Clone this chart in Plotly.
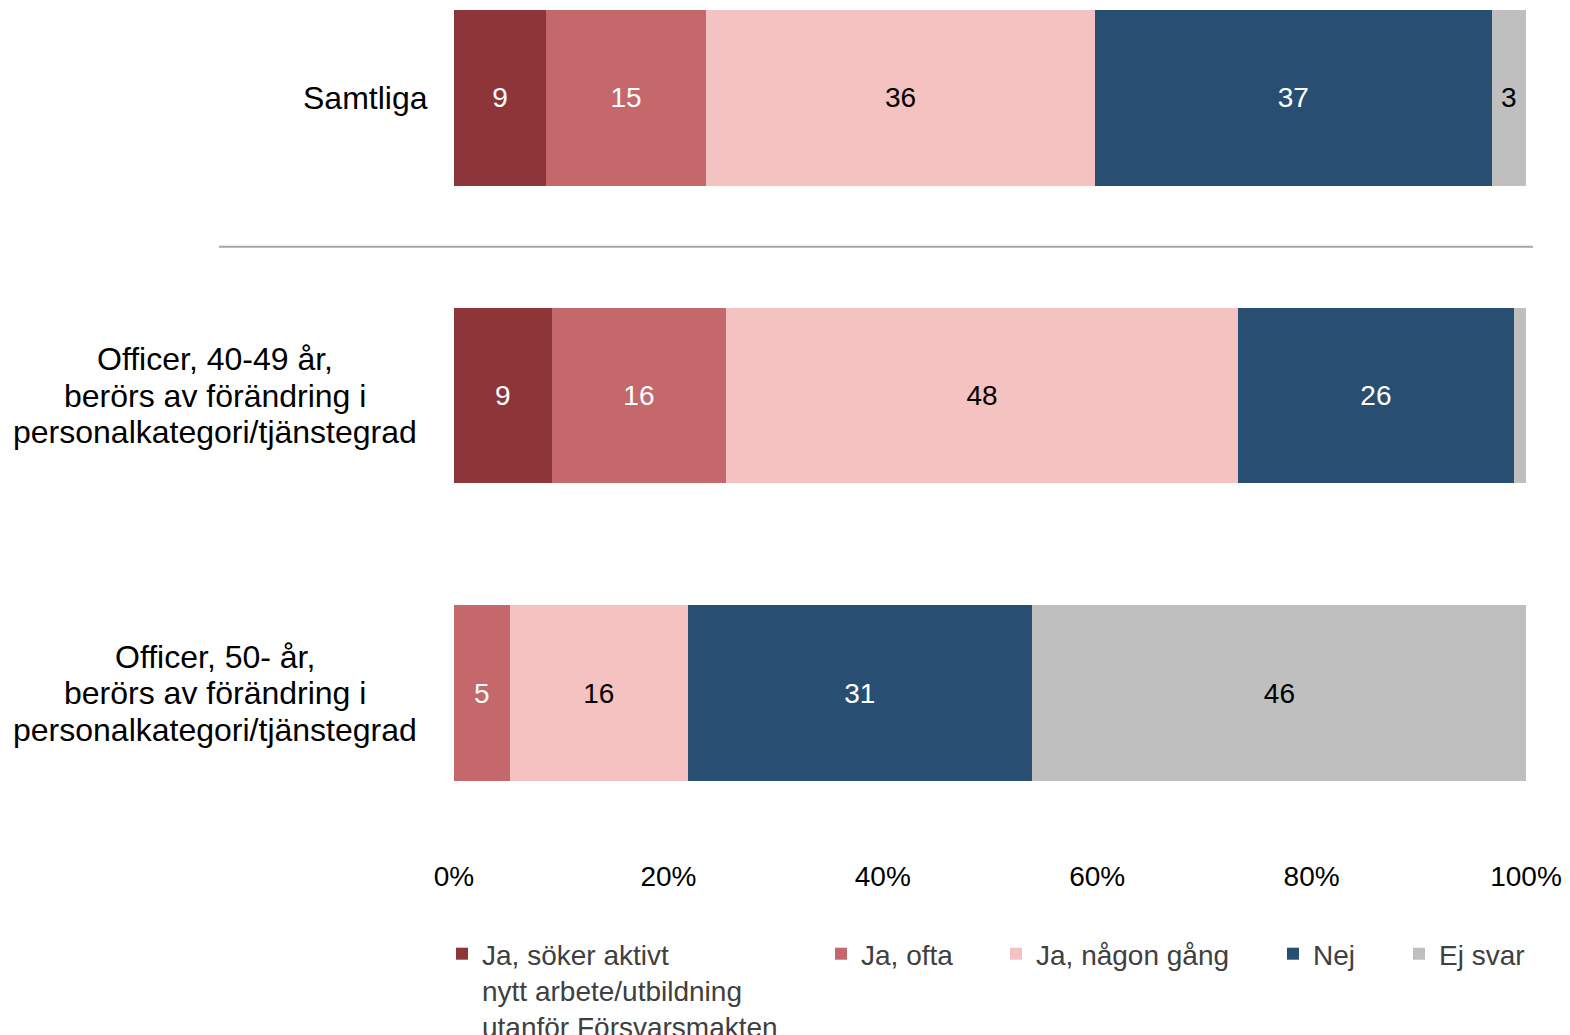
import plotly.graph_objects as go

# ---- data ----
categories = [
    "Samtliga",
    "Officer, 40-49 år,<br>berörs av förändring i<br>personalkategori/tjänstegrad",
    "Officer, 50- år,<br>berörs av förändring i<br>personalkategori/tjänstegrad",
]
series_names = [
    "Ja, söker aktivt<br>nytt arbete/utbildning<br>utanför Försvarsmakten",
    "Ja, ofta",
    "Ja, någon gång",
    "Nej",
    "Ej svar",
]
ja_soker = [8.6, 9.1, 0.0]
ja_ofta = [14.9, 16.3, 5.2]
ja_nagon = [36.3, 47.7, 16.6]
nej = [37.0, 25.8, 32.1]
ej_svar = [3.2, 1.2, 46.2]

lbl_ja_soker = ["9", "9", ""]
lbl_ja_ofta = ["15", "16", "5"]
lbl_ja_nagon = ["36", "48", "16"]
lbl_nej = ["37", "26", "31"]
lbl_ej_svar = ["3", "", "46"]

x_ticks = [0, 20, 40, 60, 80, 100]

values = [ja_soker, ja_ofta, ja_nagon, nej, ej_svar]
labels = [lbl_ja_soker, lbl_ja_ofta, lbl_ja_nagon, lbl_nej, lbl_ej_svar]

# ---- style ----
colors = ["#8E353A", "#C4686C", "#F5C2C2", "#284F72", "#BFBFBF"]
text_colors = ["white", "white", "black", "white", "black"]
FONT = "Liberation Sans, Arial, sans-serif"

PAGE_OFF = 8  # default body margin of the html page
W, H = 1570 - PAGE_OFF, 1035 - PAGE_OFF
ML, MR, MT, MB = 446, 44, 1, 178
plot_w = W - ML - MR
plot_h = H - MT - MB
plot_bottom = H - MB


def px_x(ref_px):
    return (ref_px - PAGE_OFF - ML) / plot_w


def px_y(ref_px):
    return (plot_bottom - (ref_px - PAGE_OFF)) / plot_h


fig = go.Figure()
legend_ids = ["legend", "legend2", "legend3", "legend4", "legend5"]
for i in range(5):
    fig.add_trace(go.Bar(
        y=categories,
        x=values[i],
        name=series_names[i],
        orientation="h",
        marker=dict(color=colors[i], line=dict(width=0)),
        text=labels[i],
        textposition="inside",
        insidetextanchor="middle",
        textangle=0,
        constraintext="none",
        insidetextfont=dict(family=FONT, size=28, color=text_colors[i]),
        width=0.59,
        legend=legend_ids[i],
        hoverinfo="x+name",
    ))

# legends (one per item, to reproduce the original spacing)
legend_left_ref = [442, 821, 996, 1273, 1399]
legend_top_ref = 929
common_legend = dict(
    orientation="h",
    xanchor="left",
    yanchor="top",
    bgcolor="rgba(0,0,0,0)",
    font=dict(family=FONT, size=28, color="#404040"),
    valign="top",
    itemwidth=30,
)
legend_layout = {}
for lid, lx in zip(legend_ids, legend_left_ref):
    legend_layout[lid] = dict(common_legend, x=px_x(lx), y=px_y(legend_top_ref))

# category labels as centered multi-line text (one annotation per line for tight spacing)
LINE_H = 36.5
annotations = []
for cat in categories:
    lines = cat.split("<br>")
    n = len(lines)
    for j, line in enumerate(lines):
        shift = ((n - 1) / 2 - j) * LINE_H
        if n > 1:
            annotations.append(dict(
                x=px_x(215), xref="paper", xanchor="center",
                y=cat, yref="y", yanchor="middle", yshift=shift,
                text=line, showarrow=False, align="center",
                font=dict(family=FONT, size=32, color="black"),
            ))
        else:
            annotations.append(dict(
                x=px_x(430), xref="paper", xanchor="right",
                y=cat, yref="y", yanchor="middle", yshift=shift,
                text=line, showarrow=False, align="right",
                font=dict(family=FONT, size=32, color="black"),
            ))

fig.update_layout(
    width=W, height=H,
    margin=dict(l=ML, r=MR, t=MT, b=MB, autoexpand=False),
    barmode="stack",
    plot_bgcolor="white",
    paper_bgcolor="white",
    showlegend=True,
    annotations=annotations,
    shapes=[dict(
        type="line", xref="paper", yref="y",
        x0=px_x(219), x1=px_x(1533),
        y0=0.5, y1=0.5,
        line=dict(color="#A6A6A6", width=2),
    )],
    xaxis=dict(
        range=[0, 100],
        tickvals=x_ticks,
        ticktext=[f"{v}%" for v in x_ticks],
        showgrid=False, zeroline=False, showline=False,
        ticks="",
        tickfont=dict(family=FONT, size=28, color="black"),
        fixedrange=True,
    ),
    yaxis=dict(
        type="category",
        categoryorder="array",
        categoryarray=categories,
        range=[2.551, -0.299],
        showticklabels=False,
        showgrid=False, zeroline=False, showline=False,
        ticks="",
        fixedrange=True,
    ),
    **legend_layout,
)

fig.write_html("out.html")
